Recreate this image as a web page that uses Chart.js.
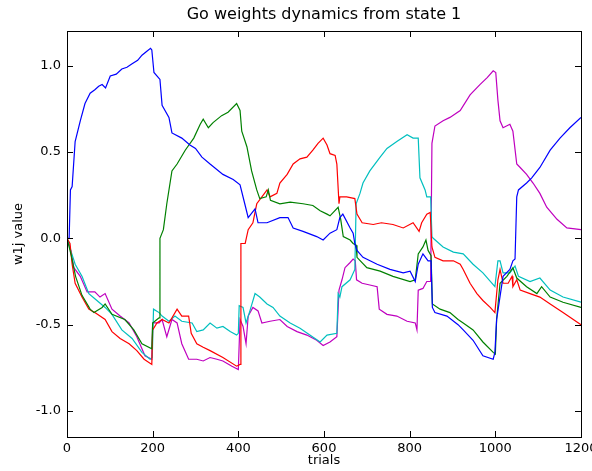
<!DOCTYPE html>
<html>
<head>
<meta charset="utf-8">
<script src="https://cdn.jsdelivr.net/npm/chart.js@4/dist/chart.umd.min.js"></script>
<style>
  html, body { margin: 0; padding: 0; background: #fff; }
  #wrap { width: 592px; height: 471px; }
</style>
</head>
<body>
<div id="wrap"><canvas id="myChart"></canvas></div>
<script>
'use strict';

const chartTitle = 'Go weights dynamics from state 1';

// [trial, weight] pairs, one array per unit
const blue = [[0,0],[5,0],[8,0.28],[12,0.30],[19,0.56],[31,0.68],[42,0.78],[54,0.84],[65,0.86],[74,0.88],[82,0.89],[90,0.87],[101,0.94],[115,0.95],[128,0.98],[140,0.99],[152,1.01],[165,1.03],[175,1.06],[185,1.08],[195,1.10],[198,1.09],[203,0.96],[217,0.92],[222,0.77],[238,0.70],[245,0.61],[268,0.58],[287,0.54],[300,0.52],[315,0.47],[334,0.43],[364,0.37],[388,0.34],[404,0.31],[416,0.19],[423,0.12],[439,0.17],[446,0.09],[467,0.09],[497,0.12],[516,0.12],[528,0.06],[551,0.04],[583,0.01],[598,-0.01],[614,0.03],[630,0.05],[637,0.12],[644,0.14],[661,0.06],[668,0.03],[672,-0.03],[677,-0.07],[691,-0.11],[724,-0.15],[754,-0.18],[785,-0.20],[801,-0.19],[813,-0.25],[820,-0.15],[831,-0.09],[843,-0.13],[850,-0.13],[853,-0.40],[859,-0.43],[887,-0.45],[913,-0.50],[925,-0.53],[948,-0.59],[971,-0.68],[995,-0.70],[999,-0.66],[1003,-0.47],[1018,-0.22],[1034,-0.18],[1041,-0.13],[1046,-0.12],[1050,0.24],[1054,0.28],[1073,0.32],[1085,0.35],[1104,0.41],[1128,0.51],[1151,0.58],[1174,0.64],[1200,0.70]];

const green = [[0,0],[10,-0.10],[20,-0.22],[35,-0.33],[54,-0.41],[63,-0.43],[82,-0.40],[89,-0.38],[105,-0.44],[135,-0.47],[156,-0.53],[175,-0.61],[198,-0.64],[200,-0.49],[210,-0.47],[215,-0.46],[217,0.0],[225,0.05],[233,0.20],[245,0.39],[257,0.43],[276,0.51],[296,0.58],[311,0.66],[318,0.69],[330,0.64],[341,0.67],[361,0.71],[376,0.73],[396,0.78],[404,0.74],[408,0.62],[420,0.53],[431,0.39],[443,0.28],[450,0.23],[465,0.24],[470,0.28],[475,0.22],[497,0.20],[521,0.21],[551,0.20],[574,0.19],[591,0.16],[607,0.14],[614,0.13],[633,0.18],[639,0.11],[645,0.01],[661,-0.01],[668,-0.03],[675,-0.04],[677,-0.11],[700,-0.17],[731,-0.19],[761,-0.22],[801,-0.25],[813,-0.24],[820,-0.09],[831,-0.05],[838,-0.01],[843,-0.07],[850,-0.10],[853,-0.38],[871,-0.41],[894,-0.43],[913,-0.47],[925,-0.49],[948,-0.53],[971,-0.60],[995,-0.66],[1000,-0.67],[1003,-0.47],[1011,-0.26],[1027,-0.22],[1041,-0.17],[1050,-0.23],[1073,-0.28],[1097,-0.32],[1108,-0.28],[1128,-0.34],[1158,-0.37],[1200,-0.40]];

const red = [[0,0],[7,-0.03],[12,-0.15],[19,-0.26],[35,-0.34],[51,-0.41],[65,-0.43],[89,-0.47],[105,-0.54],[124,-0.58],[145,-0.61],[163,-0.65],[180,-0.70],[198,-0.73],[200,-0.53],[210,-0.49],[222,-0.47],[238,-0.49],[257,-0.41],[268,-0.45],[284,-0.45],[290,-0.55],[303,-0.61],[318,-0.63],[334,-0.65],[364,-0.69],[396,-0.74],[404,-0.73],[406,-0.03],[416,-0.03],[423,0.05],[434,0.09],[443,0.20],[455,0.24],[467,0.28],[474,0.24],[490,0.26],[497,0.32],[514,0.37],[528,0.43],[544,0.46],[560,0.47],[574,0.51],[586,0.55],[598,0.58],[607,0.54],[614,0.49],[626,0.48],[630,0.43],[635,0.20],[637,0.24],[653,0.24],[672,0.23],[677,0.14],[689,0.09],[715,0.08],[734,0.09],[761,0.08],[785,0.06],[808,0.09],[822,0.04],[828,0.09],[840,0.14],[848,0.15],[852,-0.05],[859,-0.11],[878,-0.13],[902,-0.13],[918,-0.15],[925,-0.18],[941,-0.26],[957,-0.32],[971,-0.36],[988,-0.40],[999,-0.43],[1006,-0.24],[1011,-0.18],[1018,-0.26],[1030,-0.26],[1039,-0.22],[1041,-0.28],[1050,-0.24],[1058,-0.30],[1081,-0.32],[1104,-0.34],[1128,-0.38],[1158,-0.43],[1200,-0.50]];

const cyan = [[0,0],[10,-0.08],[19,-0.15],[35,-0.22],[51,-0.32],[65,-0.35],[89,-0.40],[105,-0.44],[128,-0.53],[152,-0.58],[175,-0.66],[194,-0.70],[199,-0.69],[202,-0.41],[215,-0.43],[222,-0.45],[238,-0.48],[252,-0.45],[268,-0.48],[292,-0.49],[303,-0.54],[318,-0.53],[334,-0.49],[350,-0.52],[364,-0.51],[381,-0.54],[396,-0.56],[400,-0.55],[402,-0.39],[411,-0.40],[418,-0.49],[427,-0.42],[439,-0.32],[450,-0.34],[467,-0.38],[481,-0.40],[497,-0.45],[521,-0.49],[544,-0.52],[567,-0.56],[591,-0.60],[607,-0.56],[630,-0.55],[633,-0.32],[637,-0.34],[642,-0.28],[661,-0.24],[672,-0.18],[675,0.20],[684,0.26],[691,0.32],[707,0.39],[731,0.47],[747,0.52],[770,0.56],[794,0.60],[808,0.58],[820,0.58],[824,0.35],[836,0.28],[840,0.24],[849,0.24],[852,0.01],[855,0.00],[878,-0.05],[902,-0.08],[925,-0.09],[948,-0.15],[971,-0.20],[999,-0.28],[1006,-0.13],[1011,-0.13],[1018,-0.20],[1034,-0.20],[1046,-0.16],[1054,-0.22],[1081,-0.25],[1104,-0.23],[1128,-0.30],[1158,-0.34],[1200,-0.37]];

const magenta = [[0,0],[7,-0.05],[16,-0.17],[31,-0.22],[47,-0.31],[65,-0.31],[77,-0.34],[89,-0.32],[105,-0.41],[124,-0.45],[145,-0.49],[163,-0.57],[182,-0.68],[198,-0.70],[200,-0.49],[215,-0.49],[222,-0.47],[233,-0.57],[245,-0.47],[257,-0.49],[268,-0.61],[284,-0.70],[303,-0.70],[318,-0.71],[334,-0.69],[350,-0.70],[364,-0.71],[385,-0.74],[400,-0.76],[404,-0.47],[411,-0.51],[418,-0.61],[423,-0.45],[434,-0.40],[446,-0.42],[455,-0.49],[474,-0.48],[497,-0.47],[514,-0.51],[537,-0.54],[560,-0.56],[583,-0.59],[598,-0.62],[614,-0.60],[630,-0.57],[635,-0.30],[642,-0.24],[649,-0.17],[661,-0.14],[668,-0.12],[673,-0.13],[676,-0.24],[689,-0.26],[707,-0.27],[724,-0.28],[729,-0.41],[747,-0.44],[770,-0.45],[794,-0.48],[813,-0.49],[817,-0.53],[820,-0.30],[831,-0.29],[840,-0.25],[849,-0.25],[852,0.55],[859,0.65],[878,0.68],[894,0.70],[918,0.74],[941,0.83],[964,0.89],[981,0.93],[995,0.97],[1001,0.96],[1006,0.80],[1011,0.68],[1018,0.64],[1034,0.66],[1041,0.62],[1050,0.43],[1058,0.41],[1073,0.37],[1088,0.32],[1104,0.26],[1120,0.18],[1144,0.11],[1167,0.06],[1200,0.05]];

const xTicks = [0, 200, 400, 600, 800, 1000, 1200];
const yTicks = [-1.0, -0.5, 0.0, 0.5, 1.0];

function serie(pts, color) {
  return {
    data: pts.map(p => ({ x: p[0], y: p[1] })),
    borderColor: color,
    borderWidth: 1.2,
    pointRadius: 0,
    fill: false,
    tension: 0
  };
}

// matplotlib style: title centred on the axes, box, ticks pointing inward on all four sides
const boxTicks = {
  id: 'boxTicks',
  afterDraw(chart) {
    const { ctx, chartArea: a, scales } = chart;
    ctx.save();
    ctx.fillStyle = '#000';
    ctx.font = '16px "DejaVu Sans", sans-serif';
    ctx.textAlign = 'center';
    ctx.textBaseline = 'middle';
    ctx.fillText(chartTitle, (a.left + a.right) / 2, 15);

    ctx.strokeStyle = '#000';
    ctx.lineWidth = 1;
    ctx.strokeRect(a.left + 0.5, a.top + 0.5, a.right - a.left, a.bottom - a.top);
    ctx.beginPath();
    xTicks.forEach(t => {
      const x = Math.round(scales.x.getPixelForValue(t)) + 0.5;
      ctx.moveTo(x, a.bottom); ctx.lineTo(x, a.bottom - 6);
      ctx.moveTo(x, a.top); ctx.lineTo(x, a.top + 6);
    });
    yTicks.forEach(t => {
      const y = Math.round(scales.y.getPixelForValue(t)) + 0.5;
      ctx.moveTo(a.left, y); ctx.lineTo(a.left + 6, y);
      ctx.moveTo(a.right, y); ctx.lineTo(a.right - 6, y);
    });
    ctx.stroke();
    ctx.restore();
  }
};

Chart.defaults.font.family = '"DejaVu Sans", sans-serif';
Chart.defaults.color = '#000';

const ctx = document.getElementById('myChart').getContext('2d');
const myChart = new Chart(ctx, {
  type: 'line',
  data: {
    datasets: [
      serie(blue, '#0000ff'),
      serie(green, '#008000'),
      serie(red, '#ff0000'),
      serie(cyan, '#00bfbf'),
      serie(magenta, '#bf00bf')
    ]
  },
  options: {
    responsive: true,
    maintainAspectRatio: false,
    animation: false,
    layout: { padding: { left: 0, right: 11, top: 31, bottom: 0 } },
    plugins: {
      legend: { display: false },
      tooltip: { enabled: false },
      title: { display: false }
    },
    scales: {
      x: {
        type: 'linear',
        min: 0,
        max: 1200,
        afterBuildTicks: s => { s.ticks = xTicks.map(v => ({ value: v })); },
        ticks: { font: { size: 13 }, padding: 4, maxRotation: 0, autoSkip: false, callback: v => String(v) },
        grid: { display: false, drawTicks: false },
        border: { display: false },
        title: { display: true, text: 'trials', font: { size: 13 }, padding: { top: 0, bottom: 3 } },
        afterFit: s => { s.height = 34; s.paddingLeft = 0; s.paddingRight = 0; }
      },
      y: {
        min: -1.15,
        max: 1.2,
        afterBuildTicks: s => { s.ticks = yTicks.map(v => ({ value: v })); },
        ticks: { font: { size: 13 }, padding: 6, callback: v => v.toFixed(1) },
        grid: { display: false, drawTicks: false },
        border: { display: false },
        title: { display: true, text: 'w1j value', font: { size: 13 }, padding: { top: 11, bottom: 0 } },
        afterFit: s => { s.width = 67; s.paddingTop = 0; s.paddingBottom = 0; }
      }
    }
  },
  plugins: [boxTicks]
});
</script>
</body>
</html>
